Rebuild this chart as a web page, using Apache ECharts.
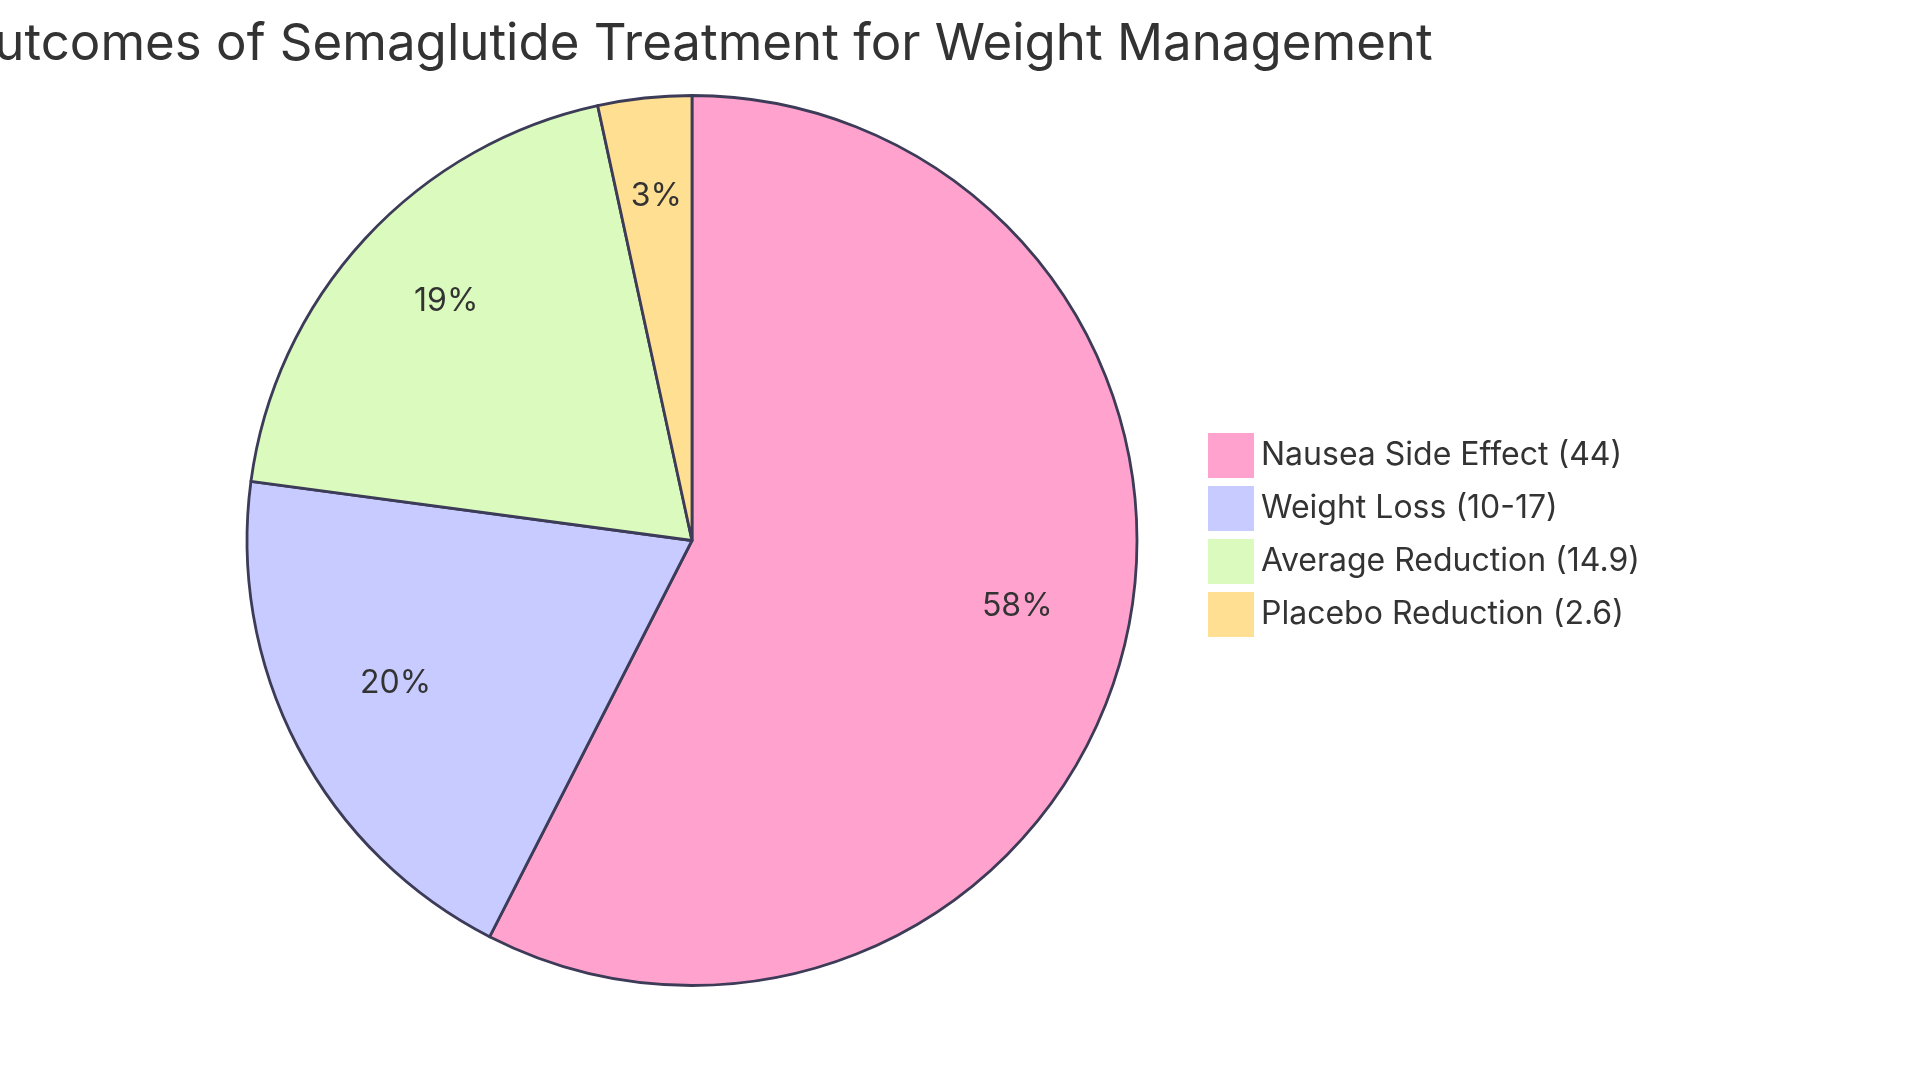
<!DOCTYPE html>
<html>
<head>
<meta charset="utf-8">
<script src="https://cdn.jsdelivr.net/npm/echarts@6/dist/echarts.min.js"></script>
<style>
html,body{margin:0;padding:0;background:#fff;}
#chart{width:1920px;height:1083px;}
</style>
</head>
<body>
<div id="chart"></div>
<script>
const titleText = 'Outcomes of Semaglutide Treatment for Weight Management';
const categories = ['Nausea Side Effect (44)', 'Weight Loss (10-17)', 'Average Reduction (14.9)', 'Placebo Reduction (2.6)'];
const values = [44, 15, 14.9, 2.6];
const colors = ['#ffa3ce', '#c8cbff', '#dbfabd', '#ffdf92'];

const FONT = 'Inter, "Noto Sans", sans-serif';
const cx = 692, cy = 540.5, R = 445;

const mainData = categories.map((c, i) => ({ name: c, value: values[i], itemStyle: { color: colors[i] } }));
const labelData = categories.map((c, i) => ({ name: c, value: values[i] }));

const chart = echarts.init(document.getElementById('chart'));
chart.setOption({
  backgroundColor: '#ffffff',
  animation: false,
  graphic: [{
    type: 'text',
    style: {
      text: titleText,
      x: cx + 2, y: 45,
      textAlign: 'center',
      textVerticalAlign: 'middle',
      font: '400 51px ' + FONT,
      fill: '#333333'
    }
  }],
  legend: {
    orient: 'vertical',
    left: 1203,
    top: 428,
    itemWidth: 46,
    itemHeight: 45,
    itemGap: 8,
    icon: 'rect',
    selectedMode: false,
    data: categories.map((c, i) => ({ name: c, itemStyle: { color: colors[i], borderWidth: 0 } })),
    textStyle: { fontFamily: FONT, fontSize: 32, color: '#333333', padding: [0, 0, 0, 2] }
  },
  series: [{
    type: 'pie',
    center: [cx, cy],
    radius: [0, R],
    startAngle: 90,
    clockwise: true,
    avoidLabelOverlap: false,
    silent: true,
    label: { show: false },
    labelLine: { show: false },
    itemStyle: { borderColor: '#3c3b58', borderWidth: 2.8 },
    data: mainData
  }, {
    type: 'pie',
    center: [cx, cy],
    radius: [0, R * 1.49],
    startAngle: 90,
    clockwise: true,
    avoidLabelOverlap: false,
    silent: true,
    itemStyle: { color: 'rgba(0,0,0,0)', borderWidth: 0 },
    label: {
      show: true,
      position: 'inside',
      offset: [0, -12],
      fontFamily: FONT,
      fontSize: 32,
      color: '#333333',
      formatter: p => Math.round(p.percent) + '%'
    },
    labelLine: { show: false },
    data: labelData
  }]
});
</script>
</body>
</html>
